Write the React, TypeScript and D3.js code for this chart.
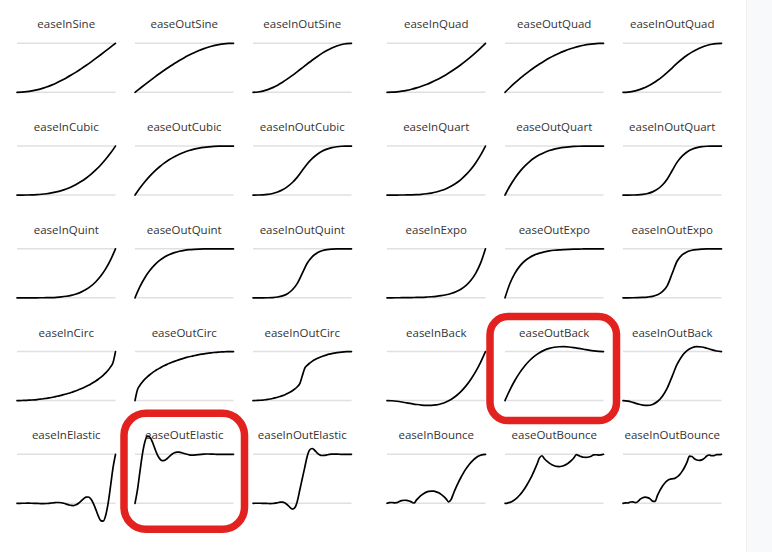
import React from "react";
import * as d3 from "d3";

// ---- layout categories ----
const variants = ["In", "Out", "InOut"];
const leftFamilies = ["Sine", "Cubic", "Quint", "Circ", "Elastic"];
const rightFamilies = ["Quad", "Quart", "Expo", "Back", "Bounce"];

const easeInSine = [0, .003, .012, .028, .049, .076, .109, .147, .191, .240, .293, .351, .412, .478, .546, .617, .691, .767, .844, .922, 1];
const easeOutSine = [0, .078, .156, .233, .309, .383, .454, .522, .588, .649, .707, .760, .809, .853, .891, .924, .951, .972, .988, .997, 1];
const easeInOutSine = [0, .006, .024, .054, .095, .146, .206, .273, .345, .422, .5, .578, .655, .727, .794, .854, .905, .946, .976, .994, 1];
const easeInQuad = [0, .003, .01, .023, .04, .063, .09, .123, .16, .203, .25, .303, .36, .423, .49, .563, .64, .723, .81, .903, 1];
const easeOutQuad = [0, .098, .19, .278, .36, .438, .51, .578, .64, .698, .75, .798, .84, .878, .91, .938, .96, .978, .99, .998, 1];
const easeInOutQuad = [0, .005, .02, .045, .08, .125, .18, .245, .32, .405, .5, .595, .68, .755, .82, .875, .92, .955, .98, .995, 1];
const easeInCubic = [0, 0, .001, .003, .008, .016, .027, .043, .064, .091, .125, .166, .216, .275, .343, .422, .512, .614, .729, .857, 1];
const easeOutCubic = [0, .143, .271, .386, .488, .578, .657, .725, .784, .834, .875, .909, .936, .957, .973, .984, .992, .997, .999, 1, 1];
const easeInOutCubic = [0, .001, .004, .014, .032, .063, .108, .172, .256, .365, .5, .635, .744, .828, .892, .937, .968, .986, .996, .999, 1];
const easeInQuart = [0, 0, 0, .001, .002, .004, .008, .015, .026, .041, .063, .092, .13, .179, .24, .316, .41, .522, .656, .815, 1];
const easeOutQuart = [0, .185, .344, .478, .59, .684, .76, .821, .87, .908, .938, .959, .974, .985, .992, .996, .998, .999, 1, 1, 1];
const easeInOutQuart = [0, 0, .001, .004, .013, .031, .065, .12, .205, .328, .5, .672, .795, .88, .935, .969, .987, .996, .999, 1, 1];
const easeInQuint = [0, 0, 0, 0, 0, .001, .002, .005, .01, .018, .031, .05, .078, .116, .168, .237, .328, .444, .59, .774, 1];
const easeOutQuint = [0, .226, .41, .556, .672, .763, .832, .884, .922, .95, .969, .982, .99, .995, .998, .999, 1, 1, 1, 1, 1];
const easeInOutQuint = [0, 0, 0, .001, .005, .016, .039, .084, .164, .295, .5, .705, .836, .916, .961, .984, .995, .999, 1, 1, 1];
const easeInExpo = [0, 0, .001, .002, .003, .005, .007, .01, .015, .021, .03, .043, .062, .088, .124, .176, .249, .353, .5, .707, 1];
const easeOutExpo = [0, .293, .5, .647, .751, .824, .876, .912, .938, .957, .97, .979, .985, .99, .993, .995, .997, .998, .999, 1, 1];
const easeInOutExpo = [0, 0, .001, .003, .007, .015, .03, .062, .124, .249, .5, .751, .876, .938, .97, .985, .993, .997, .999, 1, 1];
const easeInCirc = [0, 0, .001, .003, .005, .008, .011, .015, .020, .026, .032, .039, .046, .054, .063, .073, .084, .095, .107, .120, .134, .149, .165, .182, .200, .219, .240, .262, .286, .311, .339, .368, .400, .435, .473, .516, .564, .620, .688, .778, 1];
const easeOutCirc = [0, .222, .312, .380, .436, .484, .527, .565, .600, .632, .661, .689, .714, .738, .760, .781, .800, .818, .835, .851, .866, .880, .893, .905, .916, .927, .937, .946, .954, .961, .968, .974, .980, .985, .989, .992, .995, .997, .999, 1, 1];
const easeInOutCirc = [0, .001, .003, .006, .010, .016, .023, .032, .042, .054, .067, .082, .100, .120, .143, .169, .2, .237, .282, .344, .5, .656, .718, .763, .8, .831, .857, .880, .900, .918, .933, .946, .958, .968, .977, .984, .990, .994, .997, .999, 1];
const easeInBack = [0, -.004, -.014, -.029, -.047, -.064, -.08, -.093, -.099, -.098, -.088, -.065, -.029, .023, .093, .183, .294, .43, .591, .781, 1];
const easeOutBack = [0, .219, .409, .57, .706, .817, .907, .977, 1.029, 1.065, 1.088, 1.098, 1.099, 1.093, 1.08, 1.064, 1.047, 1.029, 1.014, 1.004, 1];
const easeInOutBack = [0, -.011, -.038, -.068, -.093, -.1, -.079, -.019, .09, .259, .5, .741, .91, 1.019, 1.079, 1.1, 1.093, 1.068, 1.038, 1.011, 1];
const easeInElastic = [0, 0, .001, .001, .002, .002, .001, 0, -.002, -.004, -.006, -.006, -.004, 0, .006, .011, .016, .016, .011, 0, -.016, -.032, -.044, -.046, -.031, 0, .044, .091, .125, .129, .088, 0, -.125, -.258, -.354, -.364, -.25, 0, .354, .728, 1];
const easeOutElastic = [0, .272, .646, 1, 1.25, 1.364, 1.354, 1.258, 1.125, 1, .912, .871, .875, .909, .956, 1, 1.031, 1.046, 1.044, 1.032, 1.016, 1, .989, .984, .984, .989, .995, 1, 1.004, 1.006, 1.006, 1.004, 1.002, 1, .999, .998, .998, .999, .999, 1, 1];
const easeInOutElastic = [0, .001, .001, .001, 0, -.001, -.004, -.005, -.004, .002, .012, .022, .024, .008, -.031, -.083, -.118, -.088, .043, .271, .5, .729, .957, 1.088, 1.118, 1.083, 1.031, .992, .976, .978, .988, .998, 1.004, 1.005, 1.004, 1.001, 1, .999, .999, .999, 1];
const easeInBounce = [0, .013, .016, .009, .012, .038, .055, .062, .06, .048, .027, .006, .069, .123, .167, .202, .228, .243, .25, .247, .234, .213, .181, .14, .09, .03, .074, .201, .319, .428, .527, .617, .698, .768, .83, .882, .924, .958, .981, .995, 1];
const easeOutBounce = [0, .005, .019, .043, .076, .118, .17, .232, .303, .383, .473, .572, .681, .799, .926, .97, .91, .86, .819, .788, .766, .753, .75, .757, .773, .798, .833, .877, .931, .994, .973, .952, .94, .938, .945, .962, .988, .991, .985, .988, 1];
const easeInOutBounce = [0, .008, .006, .027, .03, .014, .035, .084, .114, .125, .117, .091, .045, .037, .16, .264, .349, .415, .462, .491, .5, .509, .538, .585, .651, .736, .84, .963, .955, .909, .883, .875, .886, .916, .965, .986, .97, .973, .994, .992, 1];

const seriesByName: Record<string, number[]> = {
  easeInSine, easeOutSine, easeInOutSine,
  easeInQuad, easeOutQuad, easeInOutQuad,
  easeInCubic, easeOutCubic, easeInOutCubic,
  easeInQuart, easeOutQuart, easeInOutQuart,
  easeInQuint, easeOutQuint, easeInOutQuint,
  easeInExpo, easeOutExpo, easeInOutExpo,
  easeInCirc, easeOutCirc, easeInOutCirc,
  easeInBack, easeOutBack, easeInOutBack,
  easeInElastic, easeOutElastic, easeInOutElastic,
  easeInBounce, easeOutBounce, easeInOutBounce,
};

// hand-drawn highlight loops around these cells
const highlighted = ["easeOutBack", "easeOutElastic"];

// ---- geometry ----
const W = 772;
const H = 552;
const cellW = 98.5;
const cellH = 49;
const groupX = d3.scaleOrdinal<number, number>().domain([0, 1]).range([17, 387]);
const colStep = 118;
const rowY = d3.scaleLinear().domain([0, 4]).range([43.3, 454.3]);

const loopPad: Record<string, { l: number; r: number; t: number; b: number; rx: number }> = {
  easeOutBack: { l: 15, r: 13, t: 35, b: 20, rx: 18 },
  easeOutElastic: { l: 11, r: 11, t: 41, b: 26, rx: 22 },
};

type Cell = { name: string; x: number; y: number };

export default function App() {
  const cells: Cell[] = [];
  [leftFamilies, rightFamilies].forEach((fams, g) => {
    fams.forEach((fam, r) => {
      variants.forEach((v, c) => {
        cells.push({ name: `ease${v}${fam}`, x: groupX(g) + c * colStep, y: rowY(r) });
      });
    });
  });

  const x = d3.scaleLinear().domain([0, 1]).range([0, cellW]);
  const y = d3.scaleLinear().domain([0, 1]).range([cellH, 0]);

  const line = d3
    .line<number>()
    .x((_, i, arr) => x(i / ((arr as number[]).length - 1)))
    .y((d) => y(d))
    .curve(d3.curveMonotoneX);

  return (
    <svg
      width={W}
      height={H}
      viewBox={`0 0 ${W} ${H}`}
      style={{ position: "absolute", left: 0, top: 0, background: "#fff" }}
    >
      <rect x={0} y={0} width={W} height={H} fill="#fff" />
      <rect x={746} y={0} width={W - 746} height={H} fill="#f8f9fa" />
      <line x1={746.5} x2={746.5} y1={0} y2={H} stroke="#eceef0" strokeWidth={1} />
      {cells.map((cell) => (
        <g key={cell.name} transform={`translate(${cell.x},${cell.y})`}>
          <line x1={0} x2={cellW} y1={y(1)} y2={y(1)} stroke="#e0e0e0" strokeWidth={1.5} />
          <line x1={0} x2={cellW} y1={y(0)} y2={y(0)} stroke="#e0e0e0" strokeWidth={1.5} />
          <text
            x={cellW / 2}
            y={-15}
            textAnchor="middle"
            fontFamily="'Open Sans', sans-serif"
            fontSize={11.5}
            fill="#333"
          >
            {cell.name}
          </text>
          <path
            d={line(seriesByName[cell.name]) || ""}
            fill="none"
            stroke="#000"
            strokeWidth={1.7}
            strokeLinejoin="round"
            strokeLinecap="round"
          />
        </g>
      ))}
      {cells
        .filter((c) => highlighted.includes(c.name))
        .map((c) => {
          const p = loopPad[c.name];
          return (
            <rect
              key={"loop-" + c.name}
              x={c.x - p.l}
              y={c.y - p.t}
              width={cellW + p.l + p.r}
              height={cellH + p.t + p.b}
              rx={p.rx}
              ry={p.rx}
              fill="none"
              stroke="#e3211f"
              strokeWidth={7.5}
            />
          );
        })}
    </svg>
  );
}
